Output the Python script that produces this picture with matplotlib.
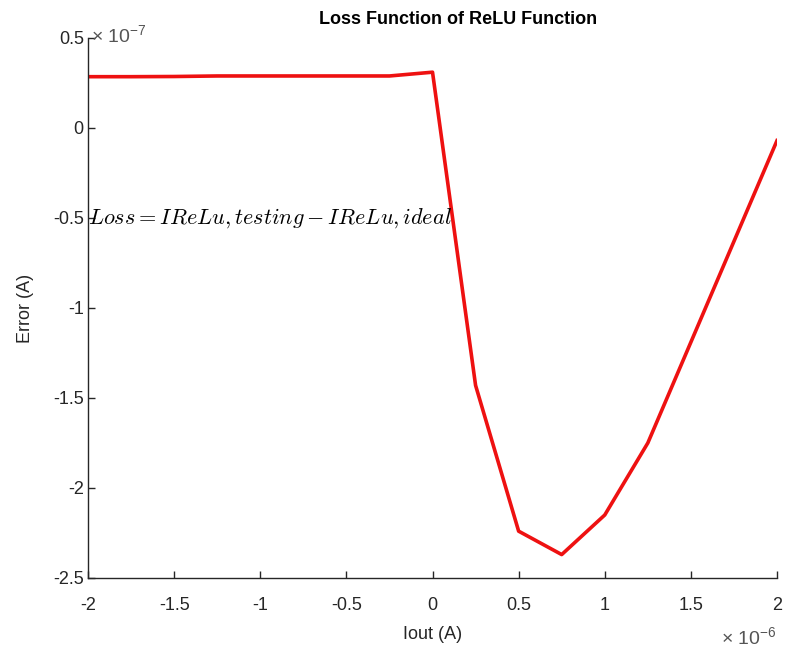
import matplotlib.pyplot as plt
from matplotlib.ticker import FuncFormatter

plt.rcParams['mathtext.fontset'] = 'cm'
plt.rcParams['font.family'] = ['Liberation Sans', 'DejaVu Sans']

# Iout (units of 1e-6 A) and loss error (units of 1e-7 A)
iout = [-2.0, -1.75, -1.5, -1.25, -1.0, -0.75, -0.5, -0.25, 0.0,
        0.25, 0.5, 0.75, 1.0, 1.25, 1.5, 1.75, 2.0]
error = [0.285, 0.285, 0.286, 0.289, 0.289, 0.289, 0.289, 0.289, 0.31,
         -1.43, -2.24, -2.37, -2.15, -1.75, -1.19, -0.63, -0.07]

x_ticks = [-2, -1.5, -1, -0.5, 0, 0.5, 1, 1.5, 2]
y_ticks = [-2.5, -2, -1.5, -1, -0.5, 0, 0.5]

xs = [v * 1e-6 for v in iout]
ys = [v * 1e-7 for v in error]

fig = plt.figure(figsize=(7.91, 6.55), dpi=100)
ax = fig.add_axes([0.1113, 0.1176, 0.871, 0.8244])

ax.plot(xs, ys, color='#ee1111', linewidth=2.6)

ax.set_xlim(-2e-6, 2e-6)
ax.set_ylim(-2.5e-7, 0.5e-7)
ax.set_xticks([t * 1e-6 for t in x_ticks])
ax.set_yticks([t * 1e-7 for t in y_ticks])
ax.xaxis.set_major_formatter(FuncFormatter(lambda v, p: '%g' % round(v / 1e-6, 3)))
ax.yaxis.set_major_formatter(FuncFormatter(lambda v, p: '%g' % round(v / 1e-7, 3)))

for s in ['top', 'right']:
    ax.spines[s].set_visible(False)
for s in ['left', 'bottom']:
    ax.spines[s].set_color('#262626')
    ax.spines[s].set_linewidth(1.0)

ax.tick_params(direction='in', length=5, width=1.0, colors='#262626',
               labelsize=13, labelcolor='#262626')
ax.tick_params(axis='x', pad=14)
ax.tick_params(axis='y', pad=3)

ax.set_xlabel('Iout (A)', fontsize=13, color='#262626', labelpad=8)
ax.set_ylabel('Error (A)', fontsize=13, color='#262626', labelpad=14)

fig.text(458 / 791, 1 - 19 / 655, 'Loss Function of ReLU Function',
         fontsize=13, fontweight='bold', ha='center', va='center')

ax.text(0.0, -0.5e-7, r'$Loss = IReLu, testing - IReLu, ideal$',
        transform=ax.get_yaxis_transform(), fontsize=16, va='center', ha='left')

# exponent labels, drawn as in the original
ax.text(0.004, 0.985, '× $\\mathregular{10^{-7}}$', transform=ax.transAxes,
        fontsize=14, color='#555555', ha='left', va='bottom')
ax.text(1.0, -0.09, '× $\\mathregular{10^{-6}}$', transform=ax.transAxes,
        fontsize=14, color='#555555', ha='right', va='top')

fig.savefig('out.png', dpi=100)
